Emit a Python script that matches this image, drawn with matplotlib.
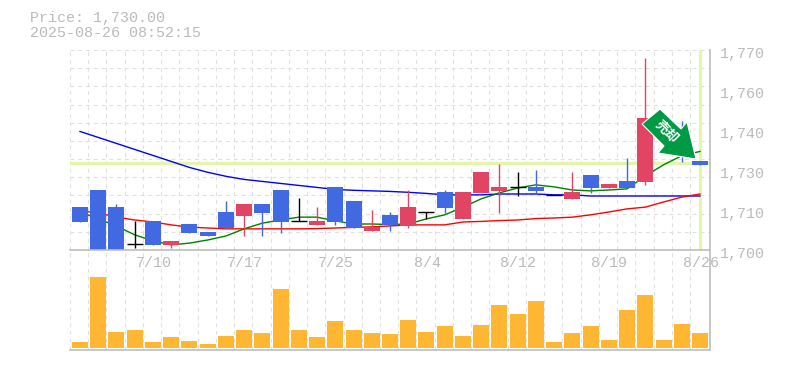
import numpy as np
import matplotlib
matplotlib.use("Agg")
import matplotlib.pyplot as plt
from matplotlib.patches import Polygon

W, H = 785, 370
title_lines = ["Price: 1,730.00", "2025-08-26 08:52:15"]
date_idx = [4, 9, 14, 19, 24, 29, 34]
date_labels = ["7/10", "7/17", "7/25", "8/4", "8/12", "8/19", "8/26"]
price_ticks = [1700, 1714, 1728, 1742, 1756, 1770]
price_labels = ["1,700", "1,710", "1,730", "1,740", "1,760", "1,770"]
current_price = 1730.0

opens = [1715.0, 1721.0, 1715.0, 1702.1, 1710.2, 1701.8, 1709.1, 1706.3, 1713.3, 1711.9,
         1716.1, 1721.0, 1710.2, 1708.8, 1722.1, 1717.2, 1706.7, 1712.3, 1708.4, 1713.3,
         1720.3, 1710.9, 1720.0, 1720.7, 1722.1, 1722.1, 1719.3, 1717.9, 1726.3, 1721.7,
         1724.2, 1723.8, 1743.7, 1741.0, 1731.2]
closes = [1709.8, 1699.0, 1699.0, 1702.1, 1701.8, 1703.2, 1706.0, 1704.9, 1707.7, 1716.1,
          1713.0, 1709.8, 1710.2, 1710.2, 1709.8, 1707.7, 1708.1, 1708.8, 1715.0, 1713.3,
          1714.7, 1720.3, 1727.3, 1722.1, 1722.1, 1720.7, 1719.3, 1720.3, 1721.7, 1723.1,
          1721.7, 1746.2, 1740.3, 1735.0, 1729.8]
highs = [1715.0, 1721.0, 1716.1, 1710.2, 1710.2, 1703.2, 1709.1, 1706.3, 1717.2, 1716.1,
         1716.1, 1721.0, 1718.2, 1715.0, 1722.1, 1717.2, 1714.0, 1713.3, 1721.0, 1713.3,
         1721.0, 1720.3, 1727.3, 1730.1, 1727.3, 1728.0, 1719.3, 1727.3, 1726.3, 1723.1,
         1732.2, 1767.2, 1743.7, 1745.2, 1731.2]
lows = [1709.8, 1699.0, 1699.0, 1700.7, 1701.8, 1700.7, 1706.0, 1704.9, 1707.7, 1704.9,
        1704.9, 1706.0, 1710.2, 1708.8, 1708.8, 1707.7, 1706.7, 1706.7, 1707.7, 1710.9,
        1713.0, 1710.9, 1720.0, 1713.0, 1718.9, 1720.0, 1719.3, 1717.9, 1720.0, 1721.7,
        1721.7, 1722.8, 1740.3, 1730.8, 1729.8]

ma_blue = [1741.5, 1739.4, 1737.3, 1735.2, 1733.1, 1731.0, 1728.9, 1727.2, 1725.8, 1724.7,
           1724.0, 1723.3, 1722.6, 1721.9, 1721.2, 1720.9, 1720.7, 1720.5, 1720.2, 1719.8,
           1719.3, 1719.3, 1719.3, 1719.6, 1719.6, 1719.6, 1719.3, 1719.3, 1718.9, 1718.9,
           1718.9, 1718.9, 1718.9, 1718.9, 1718.9]
ma_red = [1713.7, 1713.0, 1711.5, 1710.5, 1709.8, 1708.8, 1708.0, 1707.7, 1707.4, 1707.4,
          1707.4, 1707.4, 1707.4, 1707.5, 1707.7, 1707.9, 1708.1, 1708.4, 1708.8, 1708.8,
          1708.8, 1709.8, 1710.0, 1710.3, 1710.5, 1711.0, 1711.2, 1711.5, 1712.3, 1713.3,
          1714.4, 1715.0, 1716.8, 1718.5, 1719.6]
ma_green = [1713.3, 1710.9, 1708.4, 1705.3, 1703.2, 1701.8, 1702.4, 1703.5, 1704.9, 1707.4,
            1709.4, 1710.5, 1711.5, 1711.5, 1710.2, 1709.1, 1709.1, 1708.9, 1709.1, 1710.9,
            1712.3, 1715.0, 1717.9, 1720.0, 1721.7, 1722.8, 1722.1, 1721.0, 1720.7, 1721.0,
            1721.4, 1725.9, 1729.8, 1733.0, 1734.5]
volumes = [6, 71, 16, 18, 6, 11, 7, 4, 12, 18, 15, 59, 18, 11, 27, 18, 15, 14, 28, 16,
           22, 12, 23, 43, 34, 47, 6, 15, 22, 8, 38, 53, 8, 24, 15]

GRID = "#E0E0E0"
BORDER = "#BDBDBD"
TEXT = "#BBBBBB"
BLUE = "#4169E1"
RED = "#E24464"
HL = "#E4F5AE"
FONT = "Liberation Mono"
FS = 10.8

fig = plt.figure(figsize=(W / 100, H / 100), dpi=100, facecolor="white")
ax = fig.add_axes([70 / W, 1 - 250 / H, 640 / W, 200 / H])
vx = fig.add_axes([70 / W, 1 - 350 / H, 640 / W, 100 / H])

xmin, xmax = -0.548, 34.55
x = np.arange(len(opens))
grid_x = np.arange(35) + xmin
grid_y = 1700 + np.arange(12) * 70 / 11

for a in (ax, vx):
    a.set_xlim(xmin, xmax)
    a.set_xticks([])
    a.set_yticks([])
    for s in a.spines.values():
        s.set_visible(False)
    a.patch.set_alpha(0)
    a.vlines(grid_x, *( (1700, 1770) if a is ax else (-2, 98) ), color=GRID, lw=0.8,
             linestyles=(0, (3.5, 3.5)), zorder=1)
ax.set_ylim(1700, 1770)
vx.set_ylim(-2, 98)
ax.hlines(grid_y, xmin, xmax, color=GRID, lw=0.8, linestyles=(0, (3.5, 3.5)), zorder=1)

# current-price cross-hair
ax.axhline(current_price + 0.3, color=HL, lw=2.4, zorder=2)
ax.axvline(x[-1], color=HL, lw=2.4, zorder=2)

# moving averages
ax.plot(x, ma_blue, color="#0000FF", lw=1.0, zorder=3)
ax.plot(x, ma_red, color="#FF0000", lw=1.0, zorder=3)
ax.plot(x, ma_green, color="#008000", lw=1.0, zorder=3)

# candlesticks
cw = 16 / 18.235
for i, o, h, l, c in zip(x, opens, highs, lows, closes):
    col = RED if c > o else (BLUE if c < o else "black")
    ax.vlines(i, l, h, color=col, lw=1, zorder=4)
    if c == o:
        ax.hlines(c, i - cw / 2, i + cw / 2, color=col, lw=1, zorder=4)
    else:
        ax.bar(i, abs(c - o), bottom=min(o, c), width=cw, color=col, lw=0, zorder=4)

# volume
vx.bar(x, volumes, width=cw, color="#FFB733", lw=0, zorder=3)

# frame lines
fig.add_artist(plt.Line2D([70 / W, 710 / W], [1 - 250 / H] * 2, color=BORDER, lw=1.2))
fig.add_artist(plt.Line2D([70 / W, 710 / W], [1 - 350 / H] * 2, color=BORDER, lw=1.2))
fig.add_artist(plt.Line2D([709.5 / W] * 2, [1 - 50 / H, 1 - 350 / H], color=BORDER, lw=1.2))

# arrow badge
shape = [(660, 109), (681, 129), (687, 122), (696, 159), (658, 153), (664, 146), (642, 124)]
fig.add_artist(Polygon([(px / W, 1 - py / H) for px, py in shape], closed=True,
                       transform=fig.transFigure, facecolor="#009944", edgecolor="white",
                       lw=0.8, zorder=10))
fig.text(667 / W, 1 - 132 / H, "売却", color="white", fontsize=9.5, fontweight="bold",
         family=["Noto Sans CJK JP", "DejaVu Sans"], rotation=-45, ha="center", va="center",
         rotation_mode="anchor", zorder=11)

# texts
for t, py in zip(title_lines, (18, 33)):
    fig.text(30 / W, 1 - py / H, t, color=TEXT, family=FONT, fontsize=FS, va="center", ha="left")
for v, lab in zip(price_ticks, price_labels):
    ax.annotate(lab, xy=(1, v), xycoords=("axes fraction", "data"), xytext=(7.5, -2.9),
                textcoords="offset points", color=TEXT, family=FONT, fontsize=FS,
                va="center", ha="left", annotation_clip=False)
for i, lab in zip(date_idx, date_labels):
    vx.annotate(lab, xy=(i, 1), xycoords=("data", "axes fraction"), xytext=(0.5, -9.3),
                textcoords="offset points", color=TEXT, family=FONT, fontsize=FS,
                va="center", ha="center", annotation_clip=False, zorder=5)

fig.savefig("out.png", dpi=100)
